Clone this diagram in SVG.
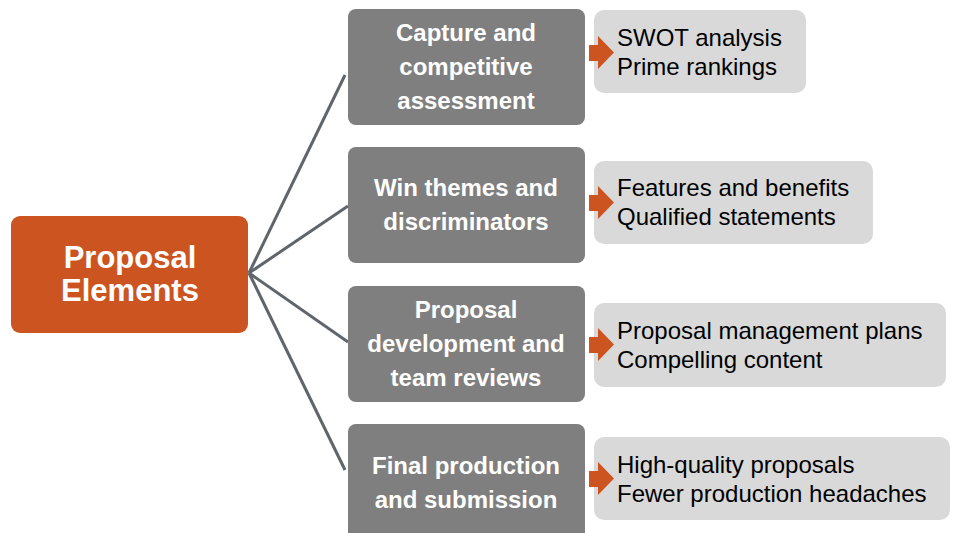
<svg xmlns="http://www.w3.org/2000/svg" width="955" height="533" viewBox="0 0 955 533">
<style>
.gray{fill:#7f7f7f}
.light{fill:#d9d9d9}
.gt{font-family:"Liberation Sans",Arial,sans-serif;font-weight:bold;font-size:24px;fill:#fff;text-anchor:middle}
.lt{font-family:"Liberation Sans",Arial,sans-serif;font-size:24px;fill:#000}
.arr{fill:#cb5421}
.conn{stroke:#5f656b;stroke-width:3;fill:none}
</style>
<rect width="955" height="533" fill="#fff"/>
<g id="connectors">
<line class="conn" x1="249" y1="273" x2="345" y2="75"/>
<line class="conn" x1="249" y1="273" x2="348" y2="206"/>
<line class="conn" x1="249" y1="273" x2="348" y2="342"/>
<line class="conn" x1="249" y1="273" x2="345" y2="470"/>
</g>
<g id="center">
<rect x="11" y="216" width="237" height="117" rx="9" fill="#cb5421"/>
<text x="130" y="268" font-family="'Liberation Sans',Arial,sans-serif" font-weight="bold" font-size="31" fill="#fff" text-anchor="middle">Proposal</text>
<text x="130" y="301" font-family="'Liberation Sans',Arial,sans-serif" font-weight="bold" font-size="31" fill="#fff" text-anchor="middle">Elements</text>
</g>
<g id="n1">
<rect class="gray" x="348" y="9" width="237" height="116" rx="8"/>
<text class="gt" x="466" y="41">Capture and</text>
<text class="gt" x="466" y="75">competitive</text>
<text class="gt" x="466" y="109">assessment</text>
</g>
<g id="n2">
<rect class="gray" x="348" y="147" width="237" height="116" rx="8"/>
<text class="gt" x="466" y="196">Win themes and</text>
<text class="gt" x="466" y="230">discriminators</text>
</g>
<g id="n3">
<rect class="gray" x="348" y="286" width="237" height="116" rx="8"/>
<text class="gt" x="466" y="318">Proposal</text>
<text class="gt" x="466" y="352">development and</text>
<text class="gt" x="466" y="386">team reviews</text>
</g>
<g id="n4">
<rect class="gray" x="348" y="424" width="237" height="125" rx="8"/>
<text class="gt" x="466" y="474">Final production</text>
<text class="gt" x="466" y="508">and submission</text>
</g>
<g id="d1">
<rect class="light" x="594" y="10" width="212" height="83" rx="10"/>
<path class="arr" d="M589,45H598V36L614,52.5L598,69V61H589Z"/>
<text class="lt" x="617" y="46">SWOT analysis</text>
<text class="lt" x="617" y="75">Prime rankings</text>
</g>
<g id="d2">
<rect class="light" x="594" y="161" width="279" height="83" rx="10"/>
<path class="arr" d="M589,195H598V186L614,202.5L598,219V211H589Z"/>
<text class="lt" x="617" y="196">Features and benefits</text>
<text class="lt" x="617" y="225">Qualified statements</text>
</g>
<g id="d3">
<rect class="light" x="594" y="303" width="352" height="84" rx="10"/>
<path class="arr" d="M589,337H598V328L614,344.5L598,361V353H589Z"/>
<text class="lt" x="617" y="339">Proposal management plans</text>
<text class="lt" x="617" y="368">Compelling content</text>
</g>
<g id="d4">
<rect class="light" x="594" y="437" width="356" height="83" rx="10"/>
<path class="arr" d="M589,471H598V462L614,478.5L598,495V487H589Z"/>
<text class="lt" x="617" y="473">High-quality proposals</text>
<text class="lt" x="617" y="502">Fewer production headaches</text>
</g>
</svg>
